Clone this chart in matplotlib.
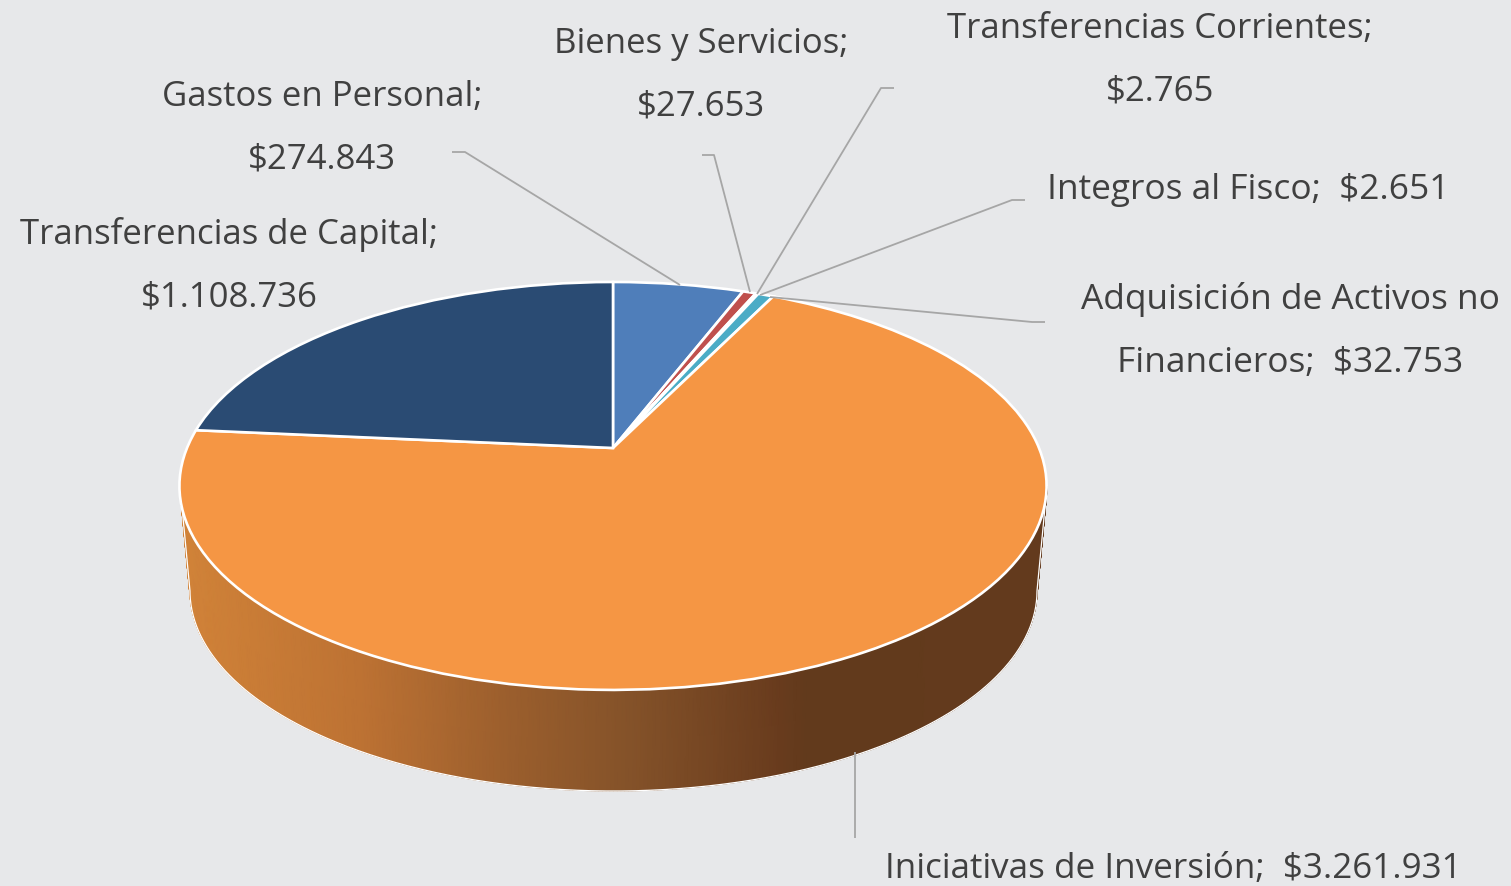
import numpy as np
import matplotlib
matplotlib.use("Agg")
import matplotlib.pyplot as plt
from matplotlib.transforms import Transform
from matplotlib.colors import LinearSegmentedColormap

# ---- data ----
categories = ["Gastos en Personal", "Bienes y Servicios", "Transferencias Corrientes",
              "Integros al Fisco", "Adquisición de Activos no Financieros",
              "Iniciativas de Inversión", "Transferencias de Capital"]
values = [274843, 27653, 2765, 2651, 32753, 3261931, 1108736]
value_labels = ["$274.843", "$27.653", "$2.765", "$2.651", "$32.753", "$3.261.931", "$1.108.736"]
colors = ["#4F7EBA", "#C0504D", "#9BBB59", "#8064A2", "#4BACC6", "#F59644", "#2A4B73"]

BG = "#E7E8EA"
TEXT = "#404040"
LEADER = "#A6A6A6"
W, H = 1511, 887

# perspective of the pie's top face, in pixel coordinates
APEX = (613.0, 448.0)
A, B, K = 426.0, 196.9, 0.186


class TiltedDisc(Transform):
    input_dims = output_dims = 2
    is_affine = False
    has_inverse = False

    def transform_non_affine(self, xy):
        xy = np.asarray(xy, float)
        d = 1 + K * xy[:, 1]
        return np.column_stack((APEX[0] + A * xy[:, 0] / d, APEX[1] - B * xy[:, 1] / d))


fig = plt.figure(figsize=(W / 100, H / 100), dpi=100, facecolor=BG)
ax = fig.add_axes([0, 0, 1, 1], facecolor=BG)
plt.rcParams["font.family"] = ["Open Sans", "DejaVu Sans"]

wedges, _ = ax.pie(values, colors=colors, startangle=90, counterclock=False,
                   wedgeprops=dict(edgecolor="white", linewidth=1.9, zorder=3))
tilt = TiltedDisc() + ax.transData
for w in wedges:
    w.set_transform(tilt)
    w.set_clip_on(False)

ax.set_aspect("auto")
ax.set_xlim(0, W)
ax.set_ylim(H - 1, -1)
ax.axis("off")

# extruded side of the pie, shaded left to right
phi = np.linspace(0, np.pi, 361)
tx, ty = 613.5 + 433.5 * np.cos(phi), 486 + 204 * np.sin(phi)
bx, by = 613.5 + 423.5 * np.cos(phi), 591 + 200 * np.sin(phi)
X = np.vstack((tx, bx))
Y = np.vstack((ty, by))
stops = [(0.0, "#D08238"), (0.20, "#BD7233"), (0.37, "#9C5F2D"), (0.52, "#845229"),
         (0.70, "#683B1D"), (0.73, "#623A1C"), (1.0, "#633A1D")]
cmap = LinearSegmentedColormap.from_list("side", stops)
ax.pcolormesh(X, Y, X, cmap=cmap, vmin=190, vmax=1037, shading="gouraud", zorder=1)
ax.plot(np.r_[tx[0], bx, tx[-1]], np.r_[ty[0], by, ty[-1]], color="white", lw=0.9, zorder=2)

# leader lines
leaders = [
    [(452, 152), (465, 152), (680, 285)],
    [(702, 155), (714, 155), (750, 292)],
    [(894, 88), (881, 88), (757, 294)],
    [(1025, 200), (1012, 200), (760, 295)],
    [(1045, 322), (1032, 322), (770, 297)],
    [(855, 838), (855, 752)],
]
for pts in leaders:
    p = np.array(pts)
    ax.plot(p[:, 0], p[:, 1], color=LEADER, lw=1.3, zorder=4, solid_capstyle="butt")

# labels: text, centre x, centre y of the block, font size
labels = [
    ("Transferencias de Capital;\n" + value_labels[6], 229, 265, 25),
    ("Gastos en Personal;\n" + value_labels[0], 322, 127, 25),
    ("Bienes y Servicios;\n" + value_labels[1], 701, 74, 25),
    ("Transferencias Corrientes;\n" + value_labels[2], 1160, 59, 25),
    ("Integros al Fisco;  " + value_labels[3], 1248, 189, 25.4),
    ("Adquisición de Activos no\nFinancieros;  " + value_labels[4], 1290, 330, 25.4),
    ("Iniciativas de Inversión;  " + value_labels[5], 1173, 868, 25.2),
]
for s, x, y, fs in labels:
    ax.text(x, y, s, ha="center", va="center", multialignment="center",
            fontsize=fs, color=TEXT, linespacing=2.11, zorder=5)

fig.savefig("out.png", dpi=100, facecolor=BG)
